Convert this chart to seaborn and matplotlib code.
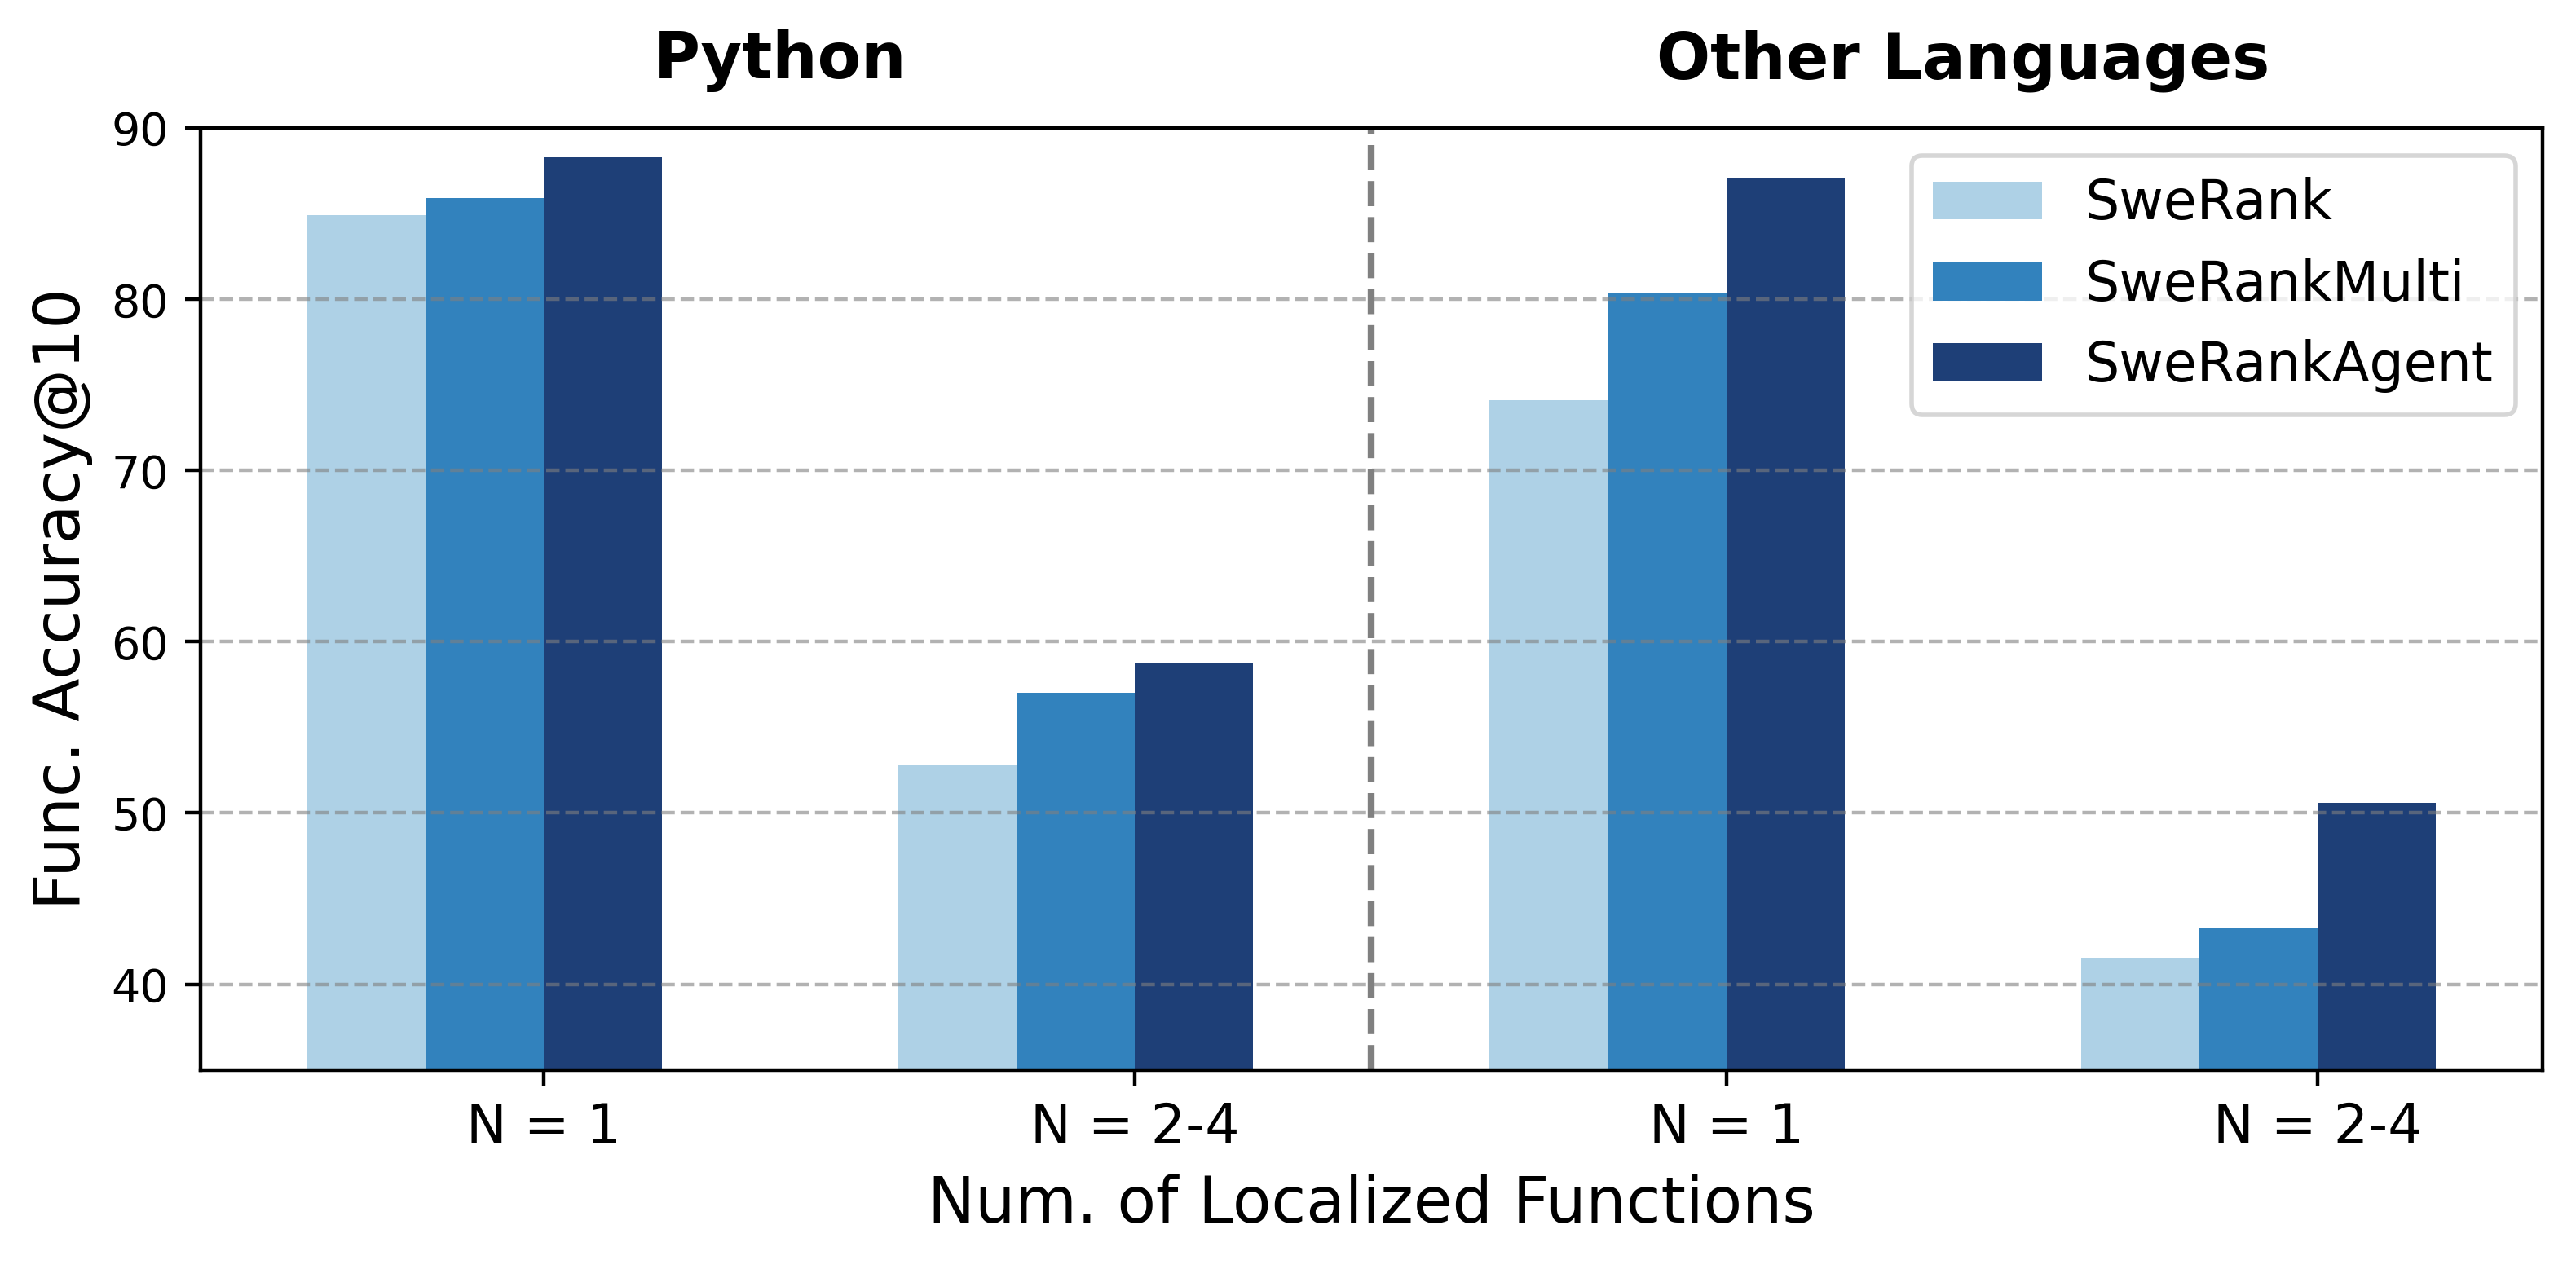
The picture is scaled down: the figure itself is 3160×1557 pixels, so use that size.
import pandas as pd
import matplotlib.pyplot as plt
import seaborn as sns
from matplotlib.patches import Patch

# data
groups = ["py_1", "py_24", "other_1", "other_24"]
tick_labels = ["N = 1", "N = 2-4", "N = 1", "N = 2-4"]
models = ["SweRank", "SweRankMulti", "SweRankAgent"]
swerank = [84.9, 52.8, 74.1, 41.5]
swerank_multi = [85.9, 57.0, 80.4, 43.3]
swerank_agent = [88.3, 58.8, 87.1, 50.6]
colors = ["#aed1e6", "#3282bd", "#1e3f77"]
panel_titles = ["Python", "Other Languages"]

rows = []
for model, vals in zip(models, [swerank, swerank_multi, swerank_agent]):
    for g, v in zip(groups, vals):
        rows.append({"group": g, "model": model, "acc": v})
df = pd.DataFrame(rows)

# an empty 4th hue level so the dodge puts the ticks between 2nd and 3rd bar
pad = " "
palette = dict(zip(models, colors))
palette[pad] = "white"

fig = plt.figure(figsize=(7.9, 3.8925), dpi=400)
ax = fig.add_axes([0.0778, 0.157, 0.9092, 0.742])

sns.barplot(data=df, x="group", y="acc", hue="model", order=groups,
            hue_order=models + [pad], palette=palette, saturation=1,
            errorbar=None, width=0.8, legend=False, ax=ax)

ax.set_xticks(range(len(groups)))
ax.set_xticklabels(tick_labels, fontsize=12)
ax.tick_params(axis="y", labelsize=10)
ax.set_xlim(-0.58, 3.38)
ax.set_ylim(35, 90)
ax.set_xlabel("Num. of Localized Functions", fontsize=14)
ax.set_ylabel("Func. Accuracy@10", fontsize=14)

ax.yaxis.grid(True, linestyle="--", color="gray", alpha=0.6, linewidth=0.8)
ax.axvline(1.4, color="gray", linestyle="--", linewidth=1.5)

for xpos, t in zip([0.4, 2.4], panel_titles):
    ax.text(xpos, 1.0714, t, transform=ax.get_xaxis_transform(),
            ha="center", va="center", fontsize=14, fontweight="bold")

handles = [Patch(facecolor=c, label=m) for m, c in zip(models, colors)]
ax.legend(handles=handles, loc="upper right", fontsize=12)

fig.savefig("out.png", dpi=400)
